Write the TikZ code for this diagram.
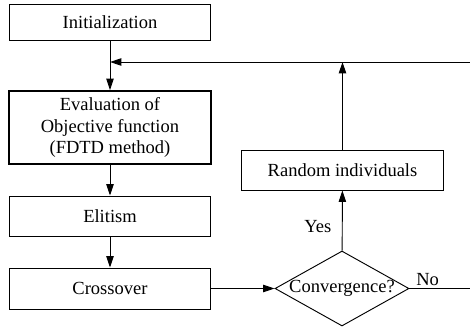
\documentclass[tikz,border=0pt]{standalone}
\usepackage{fontspec}
\setmainfont{Liberation Serif}
\usetikzlibrary{shapes.geometric,arrows.meta}

\begin{document}
\begin{tikzpicture}[
		font=\fontsize{15.8}{18.7}\selectfont,
		line width=0.8pt,
		>={Triangle[length=3.4mm,width=2.2mm]},
		box/.style={draw=black, align=center, inner sep=0pt, minimum width=6.04cm},
		decision/.style={draw=black, diamond, inner sep=0pt, minimum width=4.02cm, minimum height=2.25cm}
	]
		\useasboundingbox (0, 0) rectangle (14.1, -9.87);

		\node[box, minimum height=1.08cm] (init) at (3.3, -0.675) {Initialization};
		\node[box, minimum height=2.19cm, line width=1.6pt] (eval) at (3.3, -3.825) {Evaluation of\\Objective function\\(FDTD method)};
		\node[box, minimum height=1.2cm] (elit) at (3.3, -6.48) {Elitism};
		\node[box, minimum height=1.23cm] (cross) at (3.3, -8.655) {Crossover};
		\node[decision, label={center:Convergence?}] (conv) at (10.26, -8.655) {};
		\node[box, minimum height=1.2cm] (rand) at (10.275, -5.1) {Random individuals};

		\coordinate (back) at (14.1, -1.86);
		\coordinate (noend) at (14.1, -8.655);

		\draw[->] (init) -- (eval);
		\draw[->] (eval) -- (elit);
		\draw[->] (elit) -- (cross);
		\draw[->] (cross) -- (conv);
		\draw[->] (conv) -- node[left, pos=0.4, xshift=-0.2cm] {Yes} (rand);
		\draw[->] (rand) -- (rand |- back);
		\draw[->] (back) -- (init |- back);
		\draw (conv.east) -- node[above, pos=0.3, yshift=-0.05cm] {No} (noend);
	\end{tikzpicture}
\end{document}
